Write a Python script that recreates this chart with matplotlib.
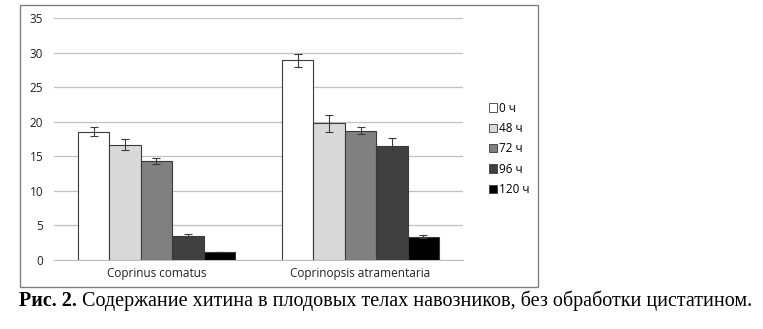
import matplotlib
matplotlib.use("Agg")
import matplotlib.pyplot as plt
import numpy as np
from matplotlib.patches import Rectangle, Patch

categories = ["Coprinus comatus", "Coprinopsis atramentaria"]
series = ["0 ч", "48 ч", "72 ч", "96 ч", "120 ч"]
values = {
    "0 ч": [18.6, 28.9],
    "48 ч": [16.7, 19.8],
    "72 ч": [14.3, 18.7],
    "96 ч": [3.5, 16.5],
    "120 ч": [1.2, 3.4],
}
errors = {
    "0 ч": [0.6, 0.9],
    "48 ч": [0.8, 1.2],
    "72 ч": [0.4, 0.5],
    "96 ч": [0.2, 1.1],
    "120 ч": [0.0, 0.2],
}
colors = ["#ffffff", "#d9d9d9", "#808080", "#404040", "#000000"]
caption_bold = "Рис. 2."
caption_rest = " Содержание хитина в плодовых телах навозников, без обработки цистатином."

W, H = 763, 329
fig = plt.figure(figsize=(W / 100, H / 100), dpi=100)
ax = fig.add_axes([54.3 / W, 1 - 260 / H, (462.7 - 54.3) / W, (260 - 18.3) / H])

x = np.arange(len(categories))
bw = 0.154
for i, s in enumerate(series):
    pos = x + (i - 2) * bw
    ax.bar(pos, values[s], bw, color=colors[i], edgecolor="#3a3a3a", linewidth=0.8, zorder=3)
    ax.errorbar(pos, values[s], yerr=errors[s], fmt="none", ecolor="#3a3a3a",
                elinewidth=0.8, capsize=3, capthick=0.8, zorder=4)

ax.set_xlim(-0.5, 1.5)
ax.set_ylim(0, 35)
ax.set_yticks(np.arange(0, 36, 5))
ax.yaxis.grid(True, color="#c0c0c0", linewidth=0.9, zorder=0)
for sp in ["top", "right", "left"]:
    ax.spines[sp].set_visible(False)
ax.spines["bottom"].set_color("#c0c0c0")
ax.tick_params(axis="both", length=0, labelsize=8.5, colors="#222222")
ax.tick_params(axis="y", pad=8)
ax.tick_params(axis="x", pad=5)
ax.set_xticks(x)
ax.set_xticklabels(categories, fontfamily="Open Sans")
for t in ax.get_yticklabels():
    t.set_fontfamily("Open Sans")

handles = [Patch(facecolor=colors[i], edgecolor="#3a3a3a", linewidth=0.6) for i in range(5)]
leg = fig.legend(handles, series, loc="upper left", bbox_to_anchor=(478 / W, 1 - 91 / H),
                 frameon=False, handlelength=0.7, handleheight=0.7, handletextpad=0.2,
                 labelspacing=0.62, prop={"family": "Open Sans", "size": 8.5})

fig.patches.append(Rectangle((20 / W, 1 - 287 / H), (538 - 20) / W, (287 - 5) / H,
                             transform=fig.transFigure, fill=False, edgecolor="#808080",
                             linewidth=1.0))

fs = 14.5
t1 = fig.text(19 / W, 1 - 301 / H, caption_bold, fontfamily="Liberation Serif",
              fontweight="bold", fontsize=fs, va="center", ha="left")
fig.canvas.draw()
bb = t1.get_window_extent()
fig.text(bb.x1 / W, 1 - 301 / H, caption_rest, fontfamily="Liberation Serif",
         fontsize=fs, va="center", ha="left")

fig.savefig("out.png", dpi=100)
